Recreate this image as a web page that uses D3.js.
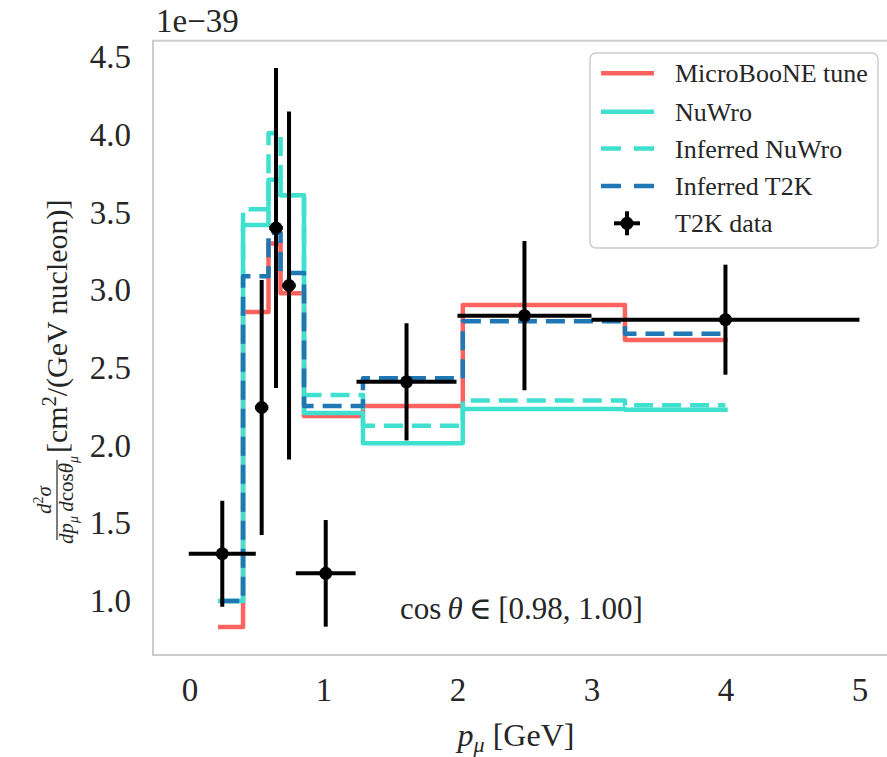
<!DOCTYPE html>
<html>
<head>
<meta charset="utf-8">
<script src="https://cdn.jsdelivr.net/npm/d3@7"></script>
<style>
    body { margin: 0; background: #ffffff; }
    svg { font-family: "Liberation Serif", "DejaVu Serif", serif; }
</style>
</head>
<body>
<svg id="chart_svg" width="887" height="757"></svg>
<script>
// bin edges of the model histograms [GeV]
const bin_edges = [0.23, 0.40, 0.59, 0.68, 0.855, 1.295, 2.04, 3.25, 4.0];
// model values per bin [1e-39 cm2/(GeV nucleon)]
const microboone_tune = [0.833, 2.86, 3.30, 2.98, 2.19, 2.255, 2.905, 2.68];
const nuwro = [1.00, 3.42, 3.71, 3.61, 2.21, 2.015, 2.235, 2.23];
const inferred_nuwro = [1.00, 3.52, 4.01, 3.61, 2.325, 2.128, 2.29, 2.26];
const inferred_t2k = [1.00, 3.09, 3.37, 3.11, 2.255, 2.433, 2.80, 2.72];
// T2K data points
const data_x = [0.245, 0.539, 0.646, 0.743, 1.017, 1.62, 2.5, 4.0];
const data_y = [1.304, 2.245, 3.40, 3.03, 1.178, 2.41, 2.836, 2.81];
const data_xerr = [0.25, 0.05, 0.05, 0.05, 0.223, 0.373, 0.5, 1.0];
const data_yerr = [0.341, 0.82, 1.03, 1.12, 0.343, 0.377, 0.48, 0.354];
// ticks
const x_ticks = [0, 1, 2, 3, 4, 5];
const y_ticks = [1.0, 1.5, 2.0, 2.5, 3.0, 3.5, 4.0, 4.5];

const g_series = [
    { name: "MicroBooNE tune", vals: microboone_tune, color: "#fd625e", dash: null },
    { name: "NuWro", vals: nuwro, color: "#40e0d0", dash: null },
    { name: "Inferred NuWro", vals: inferred_nuwro, color: "#40e0d0", dash: "19,9" },
    { name: "Inferred T2K", vals: inferred_t2k, color: "#1f77b4", dash: "19,9" }
];

var svg = d3.select("#chart_svg");
var g_left = 153, g_top = 40.7, g_bottom = 655;
var g_font = "'Liberation Serif', serif";

// set scaler
var x_scaler = d3.scaleLinear().domain([-0.272, 5.25]).range([g_left, g_left + 5.522 * 134]);
var y_scaler = d3.scaleLinear().domain([0.6526, 4.605]).range([g_bottom, g_top]);

// axes frame
svg.append("rect")
    .attr("x", g_left).attr("y", g_top)
    .attr("width", x_scaler.range()[1] - g_left).attr("height", g_bottom - g_top)
    .attr("style", "fill:none; stroke:#cccccc; stroke-width:2");

// tick labels
var x_axis = svg.append("g").attr("transform", "translate(0," + g_bottom + ")")
    .call(d3.axisBottom(x_scaler).tickValues(x_ticks).tickSize(0).tickPadding(23).tickFormat(d3.format("d")));
var y_axis = svg.append("g").attr("transform", "translate(" + g_left + ",0)")
    .call(d3.axisLeft(y_scaler).tickValues(y_ticks).tickSize(0).tickPadding(22).tickFormat(d3.format(".1f")));
[x_axis, y_axis].forEach(function (ax) {
    ax.attr("font-family", g_font).attr("font-size", 33);
    ax.select(".domain").remove();
    ax.selectAll("text").attr("fill", "#262626");
});

// offset text
svg.append("text").attr("x", 156).attr("y", 31.5)
    .attr("style", "font-size:33px; fill:#262626").text("1e\u221239");

// histogram lines, drawn as steps
var step_line = d3.line().curve(d3.curveStepAfter)
    .x(d => x_scaler(d[0])).y(d => y_scaler(d[1]));
g_series.forEach(function (ser) {
    var pnts = ser.vals.map((v, i) => [bin_edges[i], v]);
    pnts.push([bin_edges[bin_edges.length - 1], ser.vals[ser.vals.length - 1]]);
    svg.append("path").attr("d", step_line(pnts))
        .attr("fill", "none").attr("stroke", ser.color).attr("stroke-width", 4.5)
        .attr("stroke-linejoin", "round")
        .attr("stroke-linecap", ser.dash ? "butt" : "square")
        .attr("stroke-dasharray", ser.dash);
});

// T2K data with error bars
var data_g = svg.append("g");
data_x.forEach(function (xx, i) {
    var cx = x_scaler(xx), cy = y_scaler(data_y[i]);
    data_g.append("line")
        .attr("x1", x_scaler(xx - data_xerr[i])).attr("x2", x_scaler(xx + data_xerr[i]))
        .attr("y1", cy).attr("y2", cy)
        .attr("style", "stroke:black; stroke-width:4");
    data_g.append("line")
        .attr("x1", cx).attr("x2", cx)
        .attr("y1", y_scaler(data_y[i] - data_yerr[i])).attr("y2", y_scaler(data_y[i] + data_yerr[i]))
        .attr("style", "stroke:black; stroke-width:4");
    data_g.append("circle").attr("cx", cx).attr("cy", cy).attr("r", 6.5).attr("fill", "black");
});

// annotation
var anno = svg.append("text").attr("x", 400).attr("y", 619)
    .attr("style", "font-size:31px; fill:#262626");
anno.append("tspan").text("cos\u2009");
anno.append("tspan").attr("font-style", "italic").text("\u03b8");
anno.append("tspan").text("\u2009\u2208\u2009[0.98, 1.00]");

// legend
var lgd = svg.append("g");
lgd.append("rect").attr("x", 590).attr("y", 53).attr("width", 288).attr("height", 195).attr("rx", 6)
    .attr("style", "fill:white; fill-opacity:0.8; stroke:#cccccc; stroke-width:1.5");
var row_y = [73.3, 111.7, 148.5, 186, 223.3];
g_series.forEach(function (ser, i) {
    lgd.append("line").attr("x1", 601).attr("x2", 654).attr("y1", row_y[i]).attr("y2", row_y[i])
        .attr("stroke", ser.color).attr("stroke-width", 4.5).attr("stroke-dasharray", ser.dash ? "20,13" : null);
    lgd.append("text").attr("x", 675).attr("y", row_y[i] + 9)
        .attr("style", "font-size:26px; fill:#262626").text(ser.name);
});
lgd.append("line").attr("x1", 614).attr("x2", 640).attr("y1", row_y[4]).attr("y2", row_y[4])
    .attr("style", "stroke:black; stroke-width:4");
lgd.append("line").attr("x1", 627).attr("x2", 627).attr("y1", row_y[4] - 12).attr("y2", row_y[4] + 12)
    .attr("style", "stroke:black; stroke-width:4");
lgd.append("circle").attr("cx", 627).attr("cy", row_y[4]).attr("r", 6.5).attr("fill", "black");
lgd.append("text").attr("x", 675).attr("y", row_y[4] + 9)
    .attr("style", "font-size:26px; fill:#262626").text("T2K data");

// x label
var xl = svg.append("text").attr("x", 516).attr("y", 746).attr("text-anchor", "middle")
    .attr("style", "font-size:32px; fill:#262626");
xl.append("tspan").attr("font-style", "italic").text("p");
xl.append("tspan").attr("font-style", "italic").attr("font-size", "22px").attr("dy", 6).text("\u03bc");
xl.append("tspan").attr("dy", -6).text(" [GeV]");

// y label, rotated group
var yl = svg.append("g").attr("transform", "translate(57,345) rotate(-90)");
var frac_c = -155;
var num = yl.append("text").attr("x", frac_c).attr("y", -6).attr("text-anchor", "middle")
    .attr("style", "font-size:21px; font-style:italic; fill:#262626");
num.append("tspan").text("d");
num.append("tspan").attr("font-size", "14px").attr("dy", -8).attr("font-style", "normal").text("2");
num.append("tspan").attr("dy", 8).text("\u03c3");
yl.append("line").attr("x1", frac_c - 40).attr("x2", frac_c + 40).attr("y1", 0).attr("y2", 0)
    .attr("style", "stroke:#262626; stroke-width:1.2");
var den = yl.append("text").attr("x", frac_c).attr("y", 16).attr("text-anchor", "middle")
    .attr("style", "font-size:21px; font-style:italic; fill:#262626");
den.append("tspan").text("dp");
den.append("tspan").attr("font-size", "14px").attr("dy", 5).text("\u03bc");
den.append("tspan").attr("dy", -5).text("\u2009d");
den.append("tspan").attr("font-style", "normal").text("cos");
den.append("tspan").text("\u03b8");
den.append("tspan").attr("font-size", "14px").attr("dy", 5).text("\u03bc");
var unit = yl.append("text").attr("x", -108).attr("y", 10)
    .attr("style", "font-size:30px; fill:#262626");
unit.append("tspan").text("[cm");
unit.append("tspan").attr("font-size", "20px").attr("dy", -11).text("2");
unit.append("tspan").attr("dy", 11).text("/(GeV nucleon)]");
</script>
</body>
</html>
